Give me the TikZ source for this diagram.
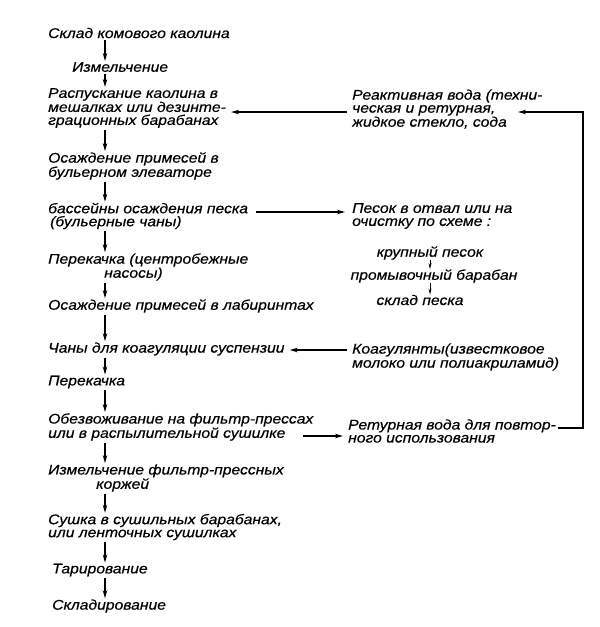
\documentclass[tikz,border=0pt]{standalone}
\usepackage{fontspec}
\newfontfamily\schemefont[FakeStretch=1.12, FakeBold=0.5]{Liberation Sans}
\usetikzlibrary{arrows.meta, positioning}

\tikzset{
  stage/.style={anchor=west, align=left, inner sep=0pt,
    font=\schemefont\itshape\fontsize{14}{13}\selectfont},
  flow/.style={line width=1.1pt, -{Stealth[length=8pt,width=4.5pt]}},
  smallflow/.style={line width=0.8pt, -{Stealth[length=6pt,width=3pt]}},
}

\begin{document}
\begin{tikzpicture}[x=1pt,y=-1pt]
    \useasboundingbox (0,0) rectangle (600,627);

    % Main line
    \node[stage] (sklad)  at (48,33)  {Склад комового каолина};
    \node[stage] (izm)    at (72,67)  {Измельчение};
    \node[stage] (rasp)   at (48,108) {Распускание каолина в\\мешалках или дезинте-\\грационных барабанах};
    \node[stage] (osazh)  at (48,166) {Осаждение примесей в\\бульерном элеваторе};
    \node[stage] (bass)   at (48,216) {бассейны осаждения песка\\\hspace*{2pt}(бульерные чаны)};
    \node[stage] (perek)  at (48,267) {Перекачка (центробежные\\\hspace*{56pt}насосы)};
    \node[stage] (labir)  at (48,306) {Осаждение примесей в лабиринтах};
    \node[stage] (chany)  at (48,349) {Чаны для коагуляции суспензии};
    \node[stage] (perek2) at (48,382) {Перекачка};
    \node[stage] (obezv)  at (48,427) {Обезвоживание на фильтр-прессах\\или в распылительной сушилке};
    \node[stage] (korzh)  at (48,478) {Измельчение фильтр-прессных\\\hspace*{48pt}коржей};
    \node[stage] (sushka) at (48,527) {Сушка в сушильных барабанах,\\или ленточных сушилках};
    \node[stage] (tarir)  at (52,570) {Тарирование};
    \node[stage] (skladk) at (52,606) {Складирование};

    % Arrows down the main line
    \coordinate (spine) at (105,0);
    \foreach \a/\b in {sklad/izm, izm/rasp, rasp/osazh, osazh/bass, bass/perek,
                       perek/labir, labir/chany, chany/perek2, perek2/obezv,
                       obezv/korzh, korzh/sushka, sushka/tarir, tarir/skladk}
        \draw[flow, shorten <=2pt, shorten >=1pt] (\a.south -| spine) -- (\b.north -| spine);

    % Right column
    \node[stage] (voda)    at (352,109) {Реактивная вода (техни-\\ческая и ретурная,\\жидкое стекло, сода};
    \node[stage] (pesok)   at (352,216) {Песок в отвал или на\\очистку по схеме :};
    \node[stage, anchor=center] (krup)    at (430,253) {крупный песок};
    \node[stage, anchor=center] (baraban) at (434,276) {промывочный барабан};
    \node[stage, anchor=center] (skladp)  at (420,300) {склад песка};
    \node[stage] (koag)    at (352,357) {Коагулянты(известковое\\молоко или полиакриламид)};
    \node[stage] (vozvrat) at (348,431) {Ретурная вода для повтор-\\ного использования};

    % Sand scheme
    \coordinate (sand) at (430,0);
    \draw[smallflow] (krup.south -| sand) -- (baraban.north -| sand);
    \draw[smallflow] (baraban.south -| sand) -- (skladp.north -| sand);

    % Side arrows
    \draw[flow, shorten <=5pt, shorten >=5pt] ([yshift=-3pt]voda.west) -- ([yshift=-3pt]voda.west -| rasp.east);
    \draw[flow, shorten <=8pt, shorten >=7pt] ([yshift=4pt]bass.east) -- ([yshift=4pt]bass.east -| pesok.west);
    \draw[flow, shorten <=5pt, shorten >=5pt] ([yshift=7pt]koag.west) -- ([yshift=7pt]koag.west -| chany.east);
    \coordinate (obezvOut) at (303,436);
    \draw[flow, shorten >=5pt] (obezvOut) -- (obezvOut -| vozvrat.west);

    % Return water loop
    \coordinate (loopx) at (583,0);
    \coordinate (vodaTip) at (518,112);
    \draw[flow] ([yshift=3pt,xshift=2pt]vozvrat.east) -| (loopx |- vodaTip) -- (vodaTip);

\end{tikzpicture}
\end{document}
